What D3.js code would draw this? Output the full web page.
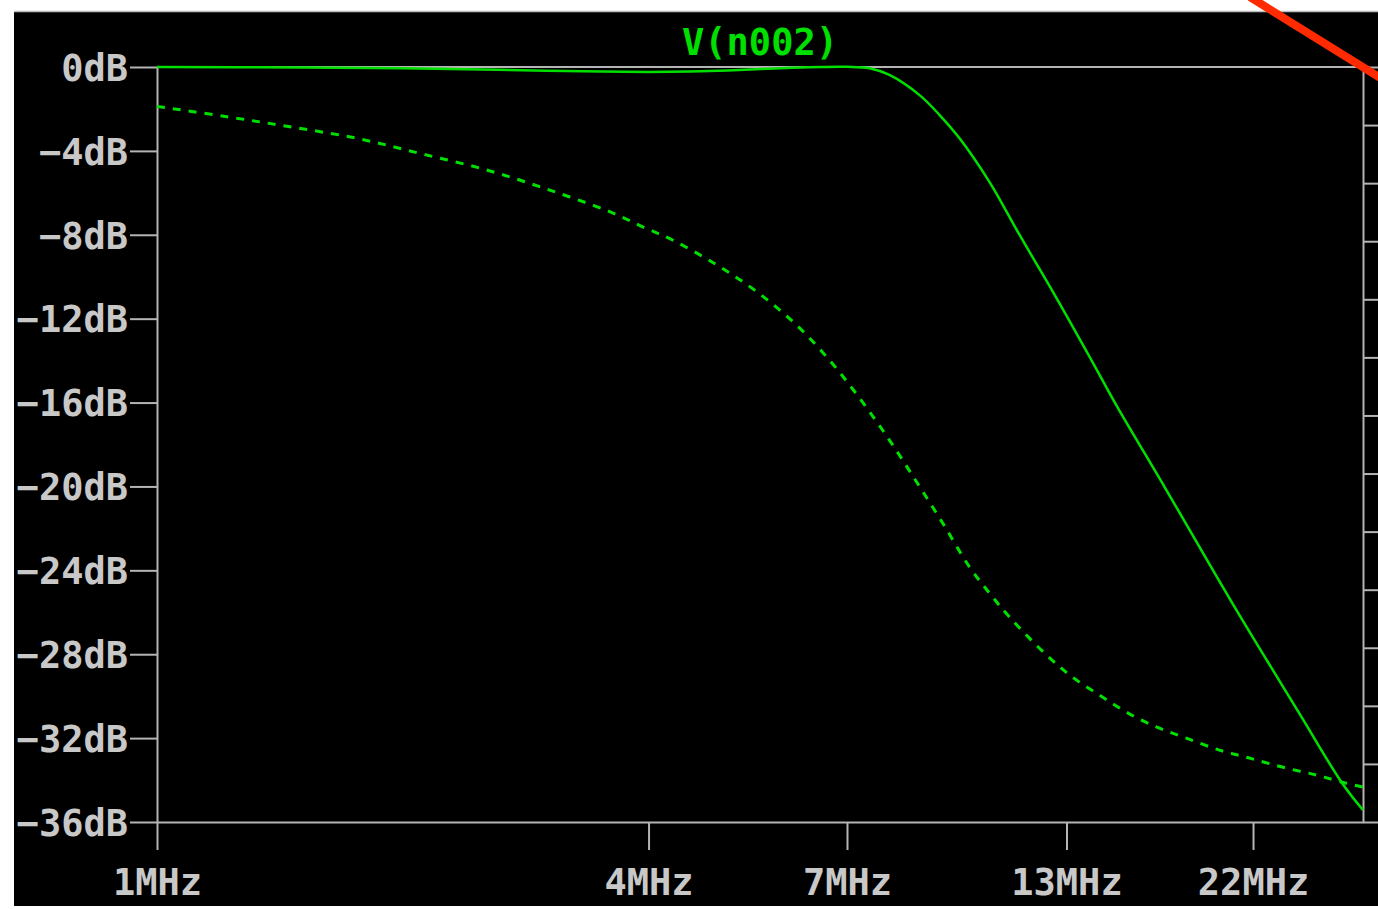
<!DOCTYPE html>
<html>
<head>
<meta charset="utf-8">
<script src="https://cdn.jsdelivr.net/npm/d3@7"></script>
<style>
  html, body { margin: 0; padding: 0; background: #ffffff; }
  svg { display: block; }
</style>
</head>
<body>
<svg id="chart" width="1378" height="909"></svg>
<script>
// ---------------- data ----------------
const traceName = "V(n002)";
const xTickMHz = [1, 4, 7, 13, 22];
const yTickDB = [0, -4, -8, -12, -16, -20, -24, -28, -32, -36];
const phaseTicks = [0, -20, -40, -60, -80, -100, -120, -140, -160, -180, -200, -220, -240, -260];

// solid trace (magnitude)
const solidFreqMHz = [1, 1.5, 2, 2.5, 3, 3.5, 4, 4.5, 5, 5.5, 6, 6.5, 7, 7.46, 7.89, 8.59, 9.09, 9.61, 10.46, 11.39, 12.64, 13.99, 14.96, 17.23, 20.75, 25.06, 28.29, 30];
const solidDB = [0, -0.02, -0.06, -0.12, -0.18, -0.22, -0.24, -0.22, -0.17, -0.1, -0.04, 0, 0.01, -0.06, -0.38, -1.34, -2.29, -3.39, -5.48, -8.01, -11.02, -14.07, -16.12, -20.17, -25.56, -30.81, -34.15, -35.43];

// dashed trace
const dashFreqMHz = [1, 1.218, 1.455, 1.757, 2.099, 2.534, 3.027, 3.585, 3.934, 4.28, 4.85, 5.43, 6.07, 6.66, 7.25, 7.89, 8.52, 9.17, 9.89, 10.46, 11.07, 12.29, 13.22, 14.27, 15.39, 16.75, 18.23, 20.0, 21.77, 23.89, 26.29, 28.61, 30];
const dashDB = [-1.88, -2.37, -2.85, -3.40, -4.12, -4.91, -5.87, -6.90, -7.62, -8.25, -9.44, -10.72, -12.30, -13.97, -15.78, -17.79, -19.79, -21.75, -23.84, -25.08, -26.23, -28.04, -29.09, -29.95, -30.76, -31.47, -32.0, -32.57, -32.95, -33.38, -33.76, -34.15, -34.33];

// ---------------- layout ----------------
const W = 1378, H = 909;
const plot = { left: 157, right: 1363, top: 67, bottom: 822 };
const axisColor = "#b4b4b4";
const textColor = "#c8c8c8";
const green = "#00e000";
const fontFam = "'DejaVu Sans Mono', 'Liberation Mono', monospace";
const fontSize = 37;

const svg = d3.select("#chart");

// background panel
svg.append("rect").attr("x", 0).attr("y", 0).attr("width", W).attr("height", H).attr("fill", "#ffffff");
svg.append("rect").attr("x", 14).attr("y", 11).attr("width", W - 14).attr("height", 895).attr("fill", "#000000");
svg.append("line").attr("x1", 14).attr("x2", W).attr("y1", 11.5).attr("y2", 11.5)
  .attr("stroke", "#bdbdbd").attr("stroke-width", 1.5);

// scales
const x = d3.scaleLog().domain([1e6, 30e6]).range([plot.left, plot.right]);
const y = d3.scaleLinear().domain([-36, 0]).range([plot.bottom, plot.top]);
const yPhase = d3.scaleLinear().domain([-260, 0]).range([plot.bottom, plot.top]);

function styleAxis(g) {
  g.selectAll("path").attr("stroke", axisColor).attr("stroke-width", 2);
  g.selectAll("line").attr("stroke", axisColor).attr("stroke-width", 2);
  g.selectAll("text").attr("fill", textColor).attr("font-family", fontFam)
    .attr("font-size", fontSize).attr("font-weight", "bold");
}

// left axis
const gy = svg.append("g").attr("transform", `translate(${plot.left},0)`)
  .call(d3.axisLeft(y).tickValues(yTickDB).tickSize(27).tickSizeOuter(0).tickPadding(2)
    .tickFormat(d => (d < 0 ? "\u2212" + Math.abs(d) : d) + "dB"));
styleAxis(gy);
gy.selectAll("text").attr("dy", "0.36em");

// bottom axis
const gx = svg.append("g").attr("transform", `translate(0,${plot.bottom})`)
  .call(d3.axisBottom(x).tickValues(xTickMHz.map(d => d * 1e6)).tickSize(28).tickSizeOuter(0)
    .tickFormat(d => Math.round(d / 1e6) + "MHz"));
styleAxis(gx);
gx.selectAll("text").attr("y", 73).attr("dy", 0);

// right axis (ticks only, labels fall outside the window)
const gr = svg.append("g").attr("transform", `translate(${plot.right},0)`)
  .call(d3.axisRight(yPhase).tickValues(phaseTicks).tickSize(22).tickSizeOuter(0).tickFormat(""));
styleAxis(gr);

// top border
svg.append("line").attr("x1", plot.left).attr("x2", plot.right).attr("y1", plot.top).attr("y2", plot.top)
  .attr("stroke", axisColor).attr("stroke-width", 2);

// title
svg.append("text").attr("x", (plot.left + plot.right) / 2).attr("y", 55)
  .attr("text-anchor", "middle").attr("fill", green).attr("font-weight", "bold")
  .attr("font-family", fontFam).attr("font-size", fontSize).text(traceName);

// traces
svg.append("clipPath").attr("id", "plotclip").append("rect")
  .attr("x", plot.left).attr("y", plot.top - 3).attr("width", plot.right - plot.left + 1).attr("height", plot.bottom - plot.top + 6);

const line = d3.line().x(d => x(d[0] * 1e6)).y(d => y(d[1])).curve(d3.curveCatmullRom.alpha(0.5));

const dashData = dashFreqMHz.map((f, i) => [f, dashDB[i]]);
const solidData = solidFreqMHz.map((f, i) => [f, solidDB[i]]);

svg.append("path").attr("clip-path", "url(#plotclip)")
  .attr("d", line(dashData)).attr("fill", "none").attr("stroke", green)
  .attr("stroke-width", 3).attr("stroke-dasharray", "8,8");

svg.append("path").attr("clip-path", "url(#plotclip)")
  .attr("d", line(solidData)).attr("fill", "none").attr("stroke", green)
  .attr("stroke-width", 2.5);

// red annotation stroke in top-right corner
svg.append("line").attr("x1", 1250).attr("y1", -3).attr("x2", 1382).attr("y2", 79)
  .attr("stroke", "#ff2a00").attr("stroke-width", 8);
</script>
</body>
</html>
